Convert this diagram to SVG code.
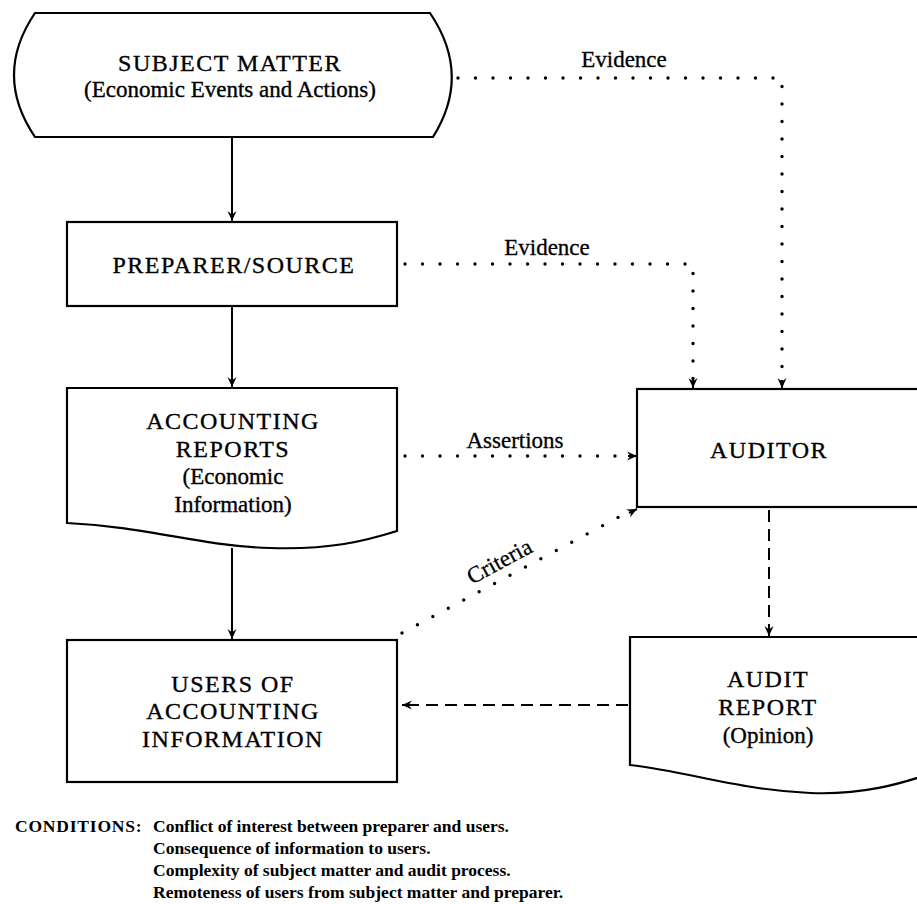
<svg xmlns="http://www.w3.org/2000/svg" width="917" height="904" viewBox="0 0 917 904">
<style>
  .shape { fill: #fff; stroke: #000; stroke-width: 2.2; }
  .solid { fill: none; stroke: #000; stroke-width: 2; }
  .dotted { fill: none; stroke: #000; stroke-width: 3.4; stroke-linecap: round; stroke-dasharray: 0 17.5; }
  .dashed { fill: none; stroke: #000; stroke-width: 2; stroke-dasharray: 12 7; }
  text { font-family: "Liberation Serif", "Times New Roman", serif; fill: #000; }
  .cap { font-size: 24px; letter-spacing: 1.5px; text-anchor: middle; stroke: #000; stroke-width: 0.35; }
  .low { font-size: 23px; text-anchor: middle; stroke: #000; stroke-width: 0.35; }
  .lbl { font-size: 23px; text-anchor: middle; stroke: #000; stroke-width: 0.3; }
  .cond { font-size: 17.5px; font-weight: bold; }
</style>
<defs>
  <marker id="arr" viewBox="0 0 10 10" refX="10" refY="5" markerWidth="10" markerHeight="10" markerUnits="userSpaceOnUse" orient="auto">
    <path d="M0,0.5 L10,5 L0,9.5 L3.5,5 Z" fill="#000"/>
  </marker>
</defs>
<rect width="917" height="904" fill="#fff"/>

<g id="connectors">
  <line class="solid" x1="232" y1="137" x2="232" y2="221" marker-end="url(#arr)"/>
  <line class="solid" x1="232" y1="306" x2="232" y2="387" marker-end="url(#arr)"/>
  <line class="solid" x1="232" y1="548" x2="232" y2="639" marker-end="url(#arr)"/>
  <path class="dotted" d="M458,78 L782,78 L782,385"/>
  <line class="solid" x1="782" y1="380" x2="782" y2="388" marker-end="url(#arr)" stroke-width="0"/>
  <path class="dotted" d="M405,264 L693,264 L693,385"/>
  <line class="solid" x1="693" y1="380" x2="693" y2="388" marker-end="url(#arr)" stroke-width="0"/>
  <path class="dotted" d="M405,456 L632,456"/>
  <line class="solid" x1="628" y1="456" x2="637" y2="456" marker-end="url(#arr)" stroke-width="0"/>
  <path class="dotted" d="M402,633 L630,511"/>
  <line class="solid" x1="629" y1="513" x2="637" y2="509" marker-end="url(#arr)" stroke-width="0"/>
  <line class="dashed" x1="769" y1="510" x2="769" y2="630"/>
  <line class="solid" x1="769" y1="628" x2="769" y2="636" marker-end="url(#arr)" stroke-width="0"/>
  <line class="dashed" x1="628" y1="705" x2="410" y2="705"/>
  <line class="solid" x1="410" y1="705" x2="402" y2="705" marker-end="url(#arr)" stroke-width="0"/>
  <text class="lbl" x="624" y="67">Evidence</text>
  <text class="lbl" x="547" y="255">Evidence</text>
  <text class="lbl" x="515" y="448">Assertions</text>
  <text class="lbl" x="503" y="568" transform="rotate(-28.3 503 568)">Criteria</text>
</g>

<g id="subject-matter">
  <path class="shape" d="M35,13 L430,13 Q472,75 433,137 L35,137 Q-7,75 35,13 Z"/>
  <text class="cap" x="230" y="71">SUBJECT MATTER</text>
  <text class="low" x="230" y="97">(Economic Events and Actions)</text>
</g>

<g id="preparer">
  <rect class="shape" x="67" y="222" width="330" height="84"/>
  <text class="cap" x="234" y="273">PREPARER/SOURCE</text>
</g>

<g id="accounting-reports">
  <path class="shape" d="M67,388 L397,388 L397,531 C365,541 330,550 270,548 C200,546 150,527 67,523 Z"/>
  <text class="cap" x="233" y="429">ACCOUNTING</text>
  <text class="cap" x="233" y="457">REPORTS</text>
  <text class="low" x="233" y="484">(Economic</text>
  <text class="low" x="233" y="512">Information)</text>
</g>

<g id="users">
  <rect class="shape" x="67" y="640" width="330" height="142"/>
  <text class="cap" x="233" y="692">USERS OF</text>
  <text class="cap" x="233" y="719">ACCOUNTING</text>
  <text class="cap" x="233" y="747">INFORMATION</text>
</g>

<g id="auditor">
  <rect class="shape" x="637" y="389" width="300" height="118"/>
  <text class="cap" x="769" y="458">AUDITOR</text>
</g>

<g id="audit-report">
  <path class="shape" d="M630,637 L940,637 L940,770 C900,785 860,795 810,793 C740,790 690,772 630,765 Z"/>
  <text class="cap" x="768" y="687">AUDIT</text>
  <text class="cap" x="768" y="715">REPORT</text>
  <text class="low" x="768" y="743">(Opinion)</text>
</g>

<g id="conditions">
  <text class="cond" x="15" y="832" letter-spacing="0.8">CONDITIONS:</text>
  <text class="cond" x="153" y="832">Conflict of interest between preparer and users.</text>
  <text class="cond" x="153" y="854">Consequence of information to users.</text>
  <text class="cond" x="153" y="876">Complexity of subject matter and audit process.</text>
  <text class="cond" x="153" y="898">Remoteness of users from subject matter and preparer.</text>
</g>
</svg>
